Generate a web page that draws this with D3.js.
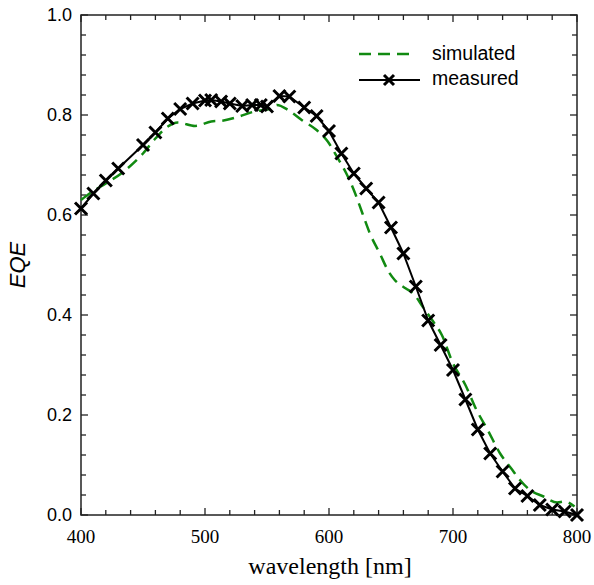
<!DOCTYPE html>
<html><head><meta charset="utf-8">
<script src="https://cdn.jsdelivr.net/npm/d3@7"></script>
<style>body{margin:0;background:#fff}</style>
</head><body><svg id="c" width="594" height="585"></svg>
<script>
const measuredWl = [400,410,420,430,450,460,470,480,490,500,505,513,520,530,538,545,550,560,568,580,590,600,610,620,630,640,650,660,670,680,690,700,710,720,730,740,750,760,770,780,790,800];
const measuredEqe = [0.613,0.643,0.669,0.693,0.740,0.765,0.793,0.812,0.823,0.829,0.830,0.827,0.823,0.818,0.820,0.820,0.817,0.838,0.837,0.815,0.798,0.768,0.723,0.683,0.653,0.625,0.575,0.523,0.457,0.389,0.340,0.290,0.231,0.171,0.123,0.087,0.053,0.038,0.020,0.011,0.007,0.000];
const simWl = [400,410,420,435,450,460,470,478,492,505,515,525,540,554,558,567,578,590,599,607,614,620,627,633,641,648,653,662,668,676,684,691,700,710,719,728,738,747,754,762,773,784,790,798];
const simEqe = [0.630,0.648,0.663,0.688,0.723,0.753,0.777,0.785,0.778,0.787,0.789,0.795,0.807,0.813,0.820,0.810,0.790,0.770,0.747,0.714,0.683,0.650,0.603,0.563,0.523,0.487,0.470,0.453,0.443,0.415,0.387,0.360,0.303,0.260,0.210,0.170,0.123,0.093,0.070,0.050,0.037,0.025,0.027,0.017];
const xMajor = [400,500,600,700,800];
const yMajor = [0.0,0.2,0.4,0.6,0.8,1.0];
const legendLabels = ["simulated","measured"];

const svg = d3.select("#c");
const L=81, R=577, T=15, B=515;
const x = d3.scaleLinear().domain([400,800]).range([L,R]);
const y = d3.scaleLinear().domain([0,1]).range([B,T]);
const green = "#118a11";

// ticks
const xMinor = d3.range(400,801,20);
const yMinor = d3.range(0,1.0001,0.04);
const tk = svg.append("g").attr("stroke","#222").attr("stroke-width",1.3);
xMinor.forEach(v=>{
  const len = xMajor.includes(v)?7:5;
  tk.append("line").attr("x1",x(v)).attr("x2",x(v)).attr("y1",B).attr("y2",B-len);
  tk.append("line").attr("x1",x(v)).attr("x2",x(v)).attr("y1",T).attr("y2",T+len);
});
yMinor.forEach(v=>{
  const maj = yMajor.some(m=>Math.abs(m-v)<1e-6);
  const len = maj?7:5;
  tk.append("line").attr("y1",y(v)).attr("y2",y(v)).attr("x1",L).attr("x2",L+len);
  tk.append("line").attr("y1",y(v)).attr("y2",y(v)).attr("x1",R).attr("x2",R-len);
});
svg.append("rect").attr("x",L).attr("y",T).attr("width",R-L).attr("height",B-T)
  .attr("fill","none").attr("stroke","#222").attr("stroke-width",1.5);

// tick labels
svg.append("g").selectAll("text").data(xMajor).join("text")
  .attr("x",d=>x(d)).attr("y",543).attr("text-anchor","middle")
  .attr("font-family","Liberation Serif, Times New Roman, serif").attr("font-size",19)
  .text(d=>d);
svg.append("g").selectAll("text").data(yMajor).join("text")
  .attr("x",72).attr("y",d=>y(d)+6).attr("text-anchor","end")
  .attr("font-family","Liberation Sans, Arial, sans-serif").attr("font-size",18)
  .text(d=>d.toFixed(1));

// axis titles
svg.append("text").attr("x",330).attr("y",574).attr("text-anchor","middle")
  .attr("font-family","Liberation Serif, Times New Roman, serif").attr("font-size",24)
  .text("wavelength [nm]");
svg.append("text").attr("transform","translate(25,265) rotate(-90)").attr("text-anchor","middle")
  .attr("font-family","Liberation Sans, Arial, sans-serif").attr("font-size",22).attr("font-style","italic")
  .text("EQE");

// simulated
const simData = simWl.map((w,i)=>[w,simEqe[i]]);
svg.append("path").datum(simData)
  .attr("d",d3.line().x(d=>x(d[0])).y(d=>y(d[1])).curve(d3.curveMonotoneX))
  .attr("fill","none").attr("stroke",green).attr("stroke-width",2.5).attr("stroke-dasharray","12,7");

// measured
const mData = measuredWl.map((w,i)=>[w,measuredEqe[i]]);
svg.append("path").datum(mData)
  .attr("d",d3.line().x(d=>x(d[0])).y(d=>y(d[1])))
  .attr("fill","none").attr("stroke","#000").attr("stroke-width",2);
const cross = (g,cx,cy,s)=>{
  g.append("path").attr("d",`M${cx-s},${cy-s}L${cx+s},${cy+s}M${cx-s},${cy+s}L${cx+s},${cy-s}`)
   .attr("stroke","#000").attr("stroke-width",3).attr("fill","none");
};
const mk = svg.append("g");
mData.forEach(d=>cross(mk,x(d[0]),y(d[1]),6));

// legend
const lg = svg.append("g");
lg.append("line").attr("x1",359).attr("x2",413).attr("y1",54).attr("y2",54)
  .attr("stroke",green).attr("stroke-width",2.5).attr("stroke-dasharray","12,7");
lg.append("line").attr("x1",359).attr("x2",420).attr("y1",80).attr("y2",80)
  .attr("stroke","#000").attr("stroke-width",2);
cross(lg,389,80,5);
lg.selectAll("text").data(legendLabels).join("text")
  .attr("x",432).attr("y",(d,i)=>60+i*25)
  .attr("font-family","Liberation Sans, Arial, sans-serif").attr("font-size",19.5)
  .text(d=>d);
</script></body></html>
